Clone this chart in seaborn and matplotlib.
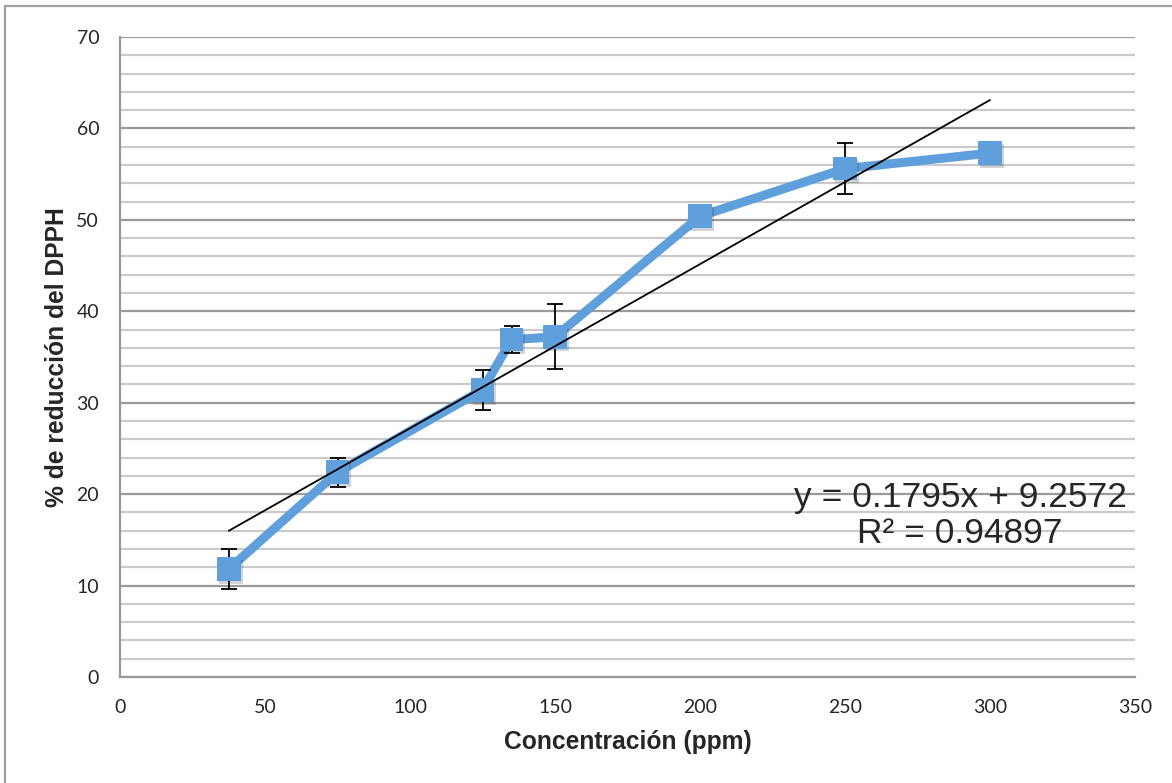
import numpy as np
import pandas as pd
import matplotlib
matplotlib.use('Agg')
import matplotlib.pyplot as plt
import matplotlib.patheffects as pe
from matplotlib.lines import Line2D
from matplotlib.ticker import MultipleLocator
import seaborn as sns

### Data ###
conc = [37.5, 75, 125, 135, 150, 200, 250, 300]
reduccion = [11.8, 22.4, 31.4, 36.9, 37.2, 50.4, 55.6, 57.3]
err = [2.2, 1.6, 2.15, 1.45, 3.55, 0.4, 2.8, 0.3]

# linear trendline (Excel)
slope = 0.1795
intercept = 9.2572
r2 = 0.94897

df = pd.DataFrame({'conc': conc, 'red': reduccion, 'err': err})
df['trend'] = slope * df['conc'] + intercept

sns.set_style('white')
plt.rcParams['font.family'] = ['Liberation Sans', 'DejaVu Sans']

fig = plt.figure(figsize=(11.72, 7.83), dpi=100)
ax = fig.add_axes([120 / 1172, 1 - 677 / 783, (1135 - 120) / 1172, (677 - 37) / 783])

blue = '#5f9fdc'

# grid lines
ax.set_axisbelow(True)
ax.yaxis.set_major_locator(MultipleLocator(10))
ax.yaxis.set_minor_locator(MultipleLocator(2))
ax.xaxis.set_major_locator(MultipleLocator(50))
ax.yaxis.grid(True, which='major', color='#9a9a9a', linewidth=1.6)
ax.yaxis.grid(True, which='minor', color='#cacaca', linewidth=1.6)
ax.xaxis.grid(False)

# data line
sns.lineplot(data=df, x='conc', y='red', ax=ax, color=blue, linewidth=6.5, zorder=3)

# error bars
ax.errorbar(df['conc'], df['red'], yerr=df['err'], fmt='none', ecolor='black',
            elinewidth=1.3, capsize=6, capthick=1.3, zorder=4)

# square markers with a soft shadow
sns.scatterplot(data=df, x='conc', y='red', ax=ax, marker='s', s=290, color=blue,
                linewidth=0, zorder=5,
                path_effects=[pe.SimplePatchShadow(offset=(1.5, -2), alpha=0.2), pe.Normal()])

# trendline
sns.lineplot(data=df, x='conc', y='trend', ax=ax, color='black', linewidth=1.3, zorder=6)

ax.text(289.7, 17.7, 'y = %.4fx + %.4f\nR² = %.5f' % (slope, intercept, r2),
        ha='center', va='center', fontsize=25.5, linespacing=1.12,
        family=['Liberation Sans', 'DejaVu Sans'], zorder=7)

ax.set_xlim(0, 350)
ax.set_ylim(0, 70)

ax.spines['right'].set_visible(False)
ax.spines['top'].set_visible(False)
for s in ['left', 'bottom']:
    ax.spines[s].set_color('#9a9a9a')
    ax.spines[s].set_linewidth(1.6)

ax.tick_params(axis='both', which='major', direction='out', length=7, width=1.4,
               color='#9a9a9a', labelsize=14, pad=8)
ax.tick_params(axis='y', which='minor', length=0)
ax.tick_params(axis='x', which='major', pad=9)
for lab in ax.get_xticklabels() + ax.get_yticklabels():
    lab.set_family(['Lato', 'DejaVu Sans'])

ax.set_xlabel('Concentración (ppm)', fontsize=17.7, fontweight='bold', labelpad=10)
ax.set_ylabel('% de reducción del DPPH', fontsize=17.7, fontweight='bold', labelpad=5.5)

# outer chart border
fig.add_artist(Line2D([5 / 1172, 5 / 1172], [0, 1 - 6 / 783], transform=fig.transFigure,
                      color='#a0a0a0', linewidth=1.6))
fig.add_artist(Line2D([5 / 1172, 1], [1 - 6 / 783, 1 - 6 / 783], transform=fig.transFigure,
                      color='#a0a0a0', linewidth=1.6))

fig.savefig('out.png', dpi=100)
